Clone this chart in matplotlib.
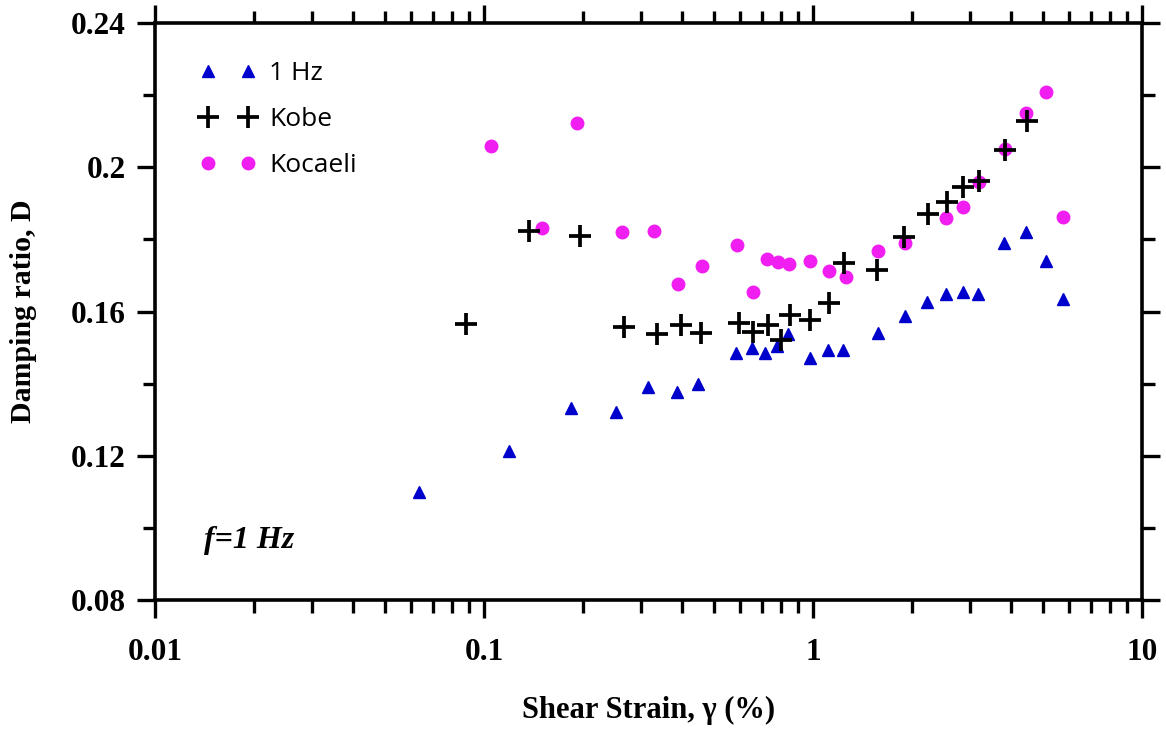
import numpy as np
import matplotlib
matplotlib.use("Agg")
import matplotlib.pyplot as plt
from matplotlib.ticker import LogLocator, MultipleLocator, FixedLocator, NullFormatter

# 1 Hz test data
hz_strain = [0.0634, 0.119, 0.184, 0.252, 0.315, 0.386, 0.447, 0.582, 0.651, 0.716,
             0.776, 0.841, 0.979, 1.113, 1.236, 1.573, 1.904, 2.216, 2.536, 2.864,
             3.18, 3.815, 4.44, 5.10, 5.77]
hz_damp = [0.110, 0.1213, 0.1332, 0.1321, 0.139, 0.1377, 0.1399, 0.1486, 0.1500, 0.1484,
           0.1504, 0.1539, 0.1472, 0.1493, 0.1493, 0.1541, 0.1588, 0.1627, 0.1648, 0.1655,
           0.1648, 0.1791, 0.1820, 0.1741, 0.1635]

# Kobe record
kobe_strain = [0.0882, 0.137, 0.196, 0.267, 0.335, 0.396, 0.457, 0.596, 0.659, 0.728,
               0.797, 0.851, 0.979, 1.121, 1.245, 1.569, 1.895, 2.232, 2.55, 2.851,
               3.203, 3.833, 4.46]
kobe_damp = [0.1565, 0.1824, 0.1809, 0.1558, 0.1539, 0.1563, 0.1541, 0.1567, 0.1544, 0.1563,
             0.1521, 0.1590, 0.1576, 0.1623, 0.1734, 0.1715, 0.1807, 0.1870, 0.1903, 0.1946,
             0.1963, 0.2048, 0.2128]

# Kocaeli record
koc_strain = [0.105, 0.1497, 0.1913, 0.263, 0.3286, 0.3895, 0.461, 0.586, 0.656, 0.723,
              0.781, 0.847, 0.979, 1.121, 1.257, 1.573, 1.904, 2.536, 2.851, 3.203,
              3.833, 4.44, 5.10, 5.77]
koc_damp = [0.2059, 0.1832, 0.2122, 0.1820, 0.1823, 0.1676, 0.1727, 0.1784, 0.1655, 0.1746,
            0.1736, 0.1731, 0.1740, 0.1712, 0.1695, 0.1769, 0.1791, 0.1858, 0.1891, 0.1960,
            0.2050, 0.2151, 0.2210, 0.1861]

serif = "Liberation Serif"

fig = plt.figure(figsize=(11.66, 7.31), dpi=100)
ax = fig.add_axes([0.1329, 0.1792, 0.8465, 0.7893])

h1, = ax.plot(hz_strain, hz_damp, linestyle="none", marker="^", ms=9,
              color="#0000cc", mec="#0000cc", label="1 Hz", zorder=3)
h3, = ax.plot(koc_strain, koc_damp, linestyle="none", marker="o", ms=9,
              color="#f01ef0", mec="#f01ef0", label="Kocaeli", zorder=3)
h2, = ax.plot(kobe_strain, kobe_damp, linestyle="none", marker="+", ms=16, mew=2.7,
              color="black", label="Kobe", zorder=4)

ax.set_xscale("log")
ax.set_xlim(0.01, 10)
ax.set_ylim(0.08, 0.24)

ax.xaxis.set_major_locator(FixedLocator([0.01, 0.1, 1, 10]))
ax.xaxis.set_minor_locator(LogLocator(base=10, subs=np.arange(2, 10)))
ax.xaxis.set_minor_formatter(NullFormatter())
ax.set_xticklabels(["0.01", "0.1", "1", "10"])
ax.yaxis.set_major_locator(FixedLocator([0.08, 0.12, 0.16, 0.2, 0.24]))
ax.set_yticklabels(["0.08", "0.12", "0.16", "0.2", "0.24"])
ax.yaxis.set_minor_locator(MultipleLocator(0.02))

for s in ax.spines.values():
    s.set_linewidth(2.6)

ax.tick_params(which="both", direction="out", top=True, right=True, width=2.4)
ax.tick_params(which="major", length=13)
ax.tick_params(axis="x", which="major", pad=14)
ax.tick_params(axis="y", which="major", pad=8)
ax.tick_params(which="minor", length=9)
ax.tick_params(axis="x", labeltop=False)
ax.tick_params(axis="y", labelright=False)

for lab in ax.get_xticklabels() + ax.get_yticklabels():
    lab.set_fontfamily(serif)
    lab.set_fontweight("bold")
    lab.set_fontsize(22.5)

ax.set_xlabel("Shear Strain, \u03b3 (%)", fontfamily=serif, fontweight="bold",
              fontsize=22, labelpad=21)
ax.set_ylabel("Damping ratio, D", fontfamily=serif, fontweight="bold",
              fontsize=21.5, labelpad=24)

ax.text(0.05, 0.09, "f=1 Hz", transform=ax.transAxes, fontfamily=serif,
        fontweight="bold", fontstyle="italic", fontsize=23)

ax.legend(handles=[h1, h2, h3], loc="upper left", bbox_to_anchor=(0.022, 0.975),
          frameon=False, numpoints=2, handlelength=2.1, handletextpad=0.5,
          labelspacing=0.8, prop={"family": "Open Sans", "size": 19})

fig.savefig("out.png", dpi=100)
